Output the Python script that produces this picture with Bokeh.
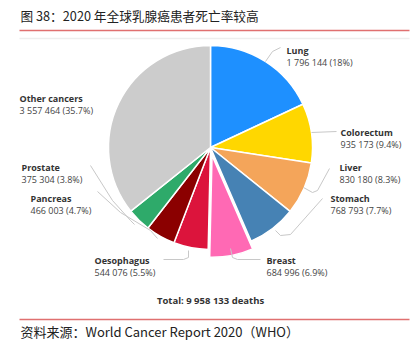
import math
from bokeh.plotting import figure
from bokeh.models import Range1d, ColumnDataSource
from bokeh.core.properties import value
from bokeh.embed import file_html
from bokeh.resources import INLINE

# ---- data ----
categories = ["Lung", "Colorectum", "Liver", "Stomach", "Breast",
              "Oesophagus", "Pancreas", "Prostate", "Other cancers"]
deaths = [1796144, 935173, 830180, 768793, 684996, 544076, 466003, 375304, 3557464]
pct_labels = ["18%", "9.4%", "8.3%", "7.7%", "6.9%", "5.5%", "4.7%", "3.8%", "35.7%"]
total_deaths = 9958133
title_text = "图 38：2020 年全球乳腺癌患者死亡率较高"
source_text = "资料来源：World Cancer Report 2020（WHO）"

# ---- styles / layout ----
colors = ["#1E90FF", "#FFD700", "#F4A55A", "#4682B4", "#FF69B4",
          "#DC143C", "#8B0000", "#2EAA6A", "#CCCCCC"]
explode = [0, 0, 0, 0, 8, 0, 0, 0, 0]
W, H = 419, 350
cx, cy, R = 210, 147, 102
label_pos = [(286, 50), (340, 132), (339, 167), (330, 198), (266, 260),
             (94, 260), (30, 198), (21, 167), (19, 98)]
leaders = [
    [(265, 61), (272, 51), (280, 47)],
    [(311, 132), (336, 131)],
    [(303, 187), (312, 192), (317, 190), (329, 168)],
    [(275, 230), (280, 235), (290, 234), (322, 198)],
    [(230, 248), (232, 257), (237, 259), (260, 259)],
    [(188, 250), (188, 257), (183, 259), (163, 259)],
    [(97, 191), (120, 212), (150, 230), (157, 238)],
    [(90, 165), (112, 200), (130, 220), (134, 224)],
    None,
]

def Y(y):
    return H - y

p = figure(width=W, height=H, x_range=Range1d(0, W), y_range=Range1d(0, H),
           output_backend="svg", toolbar_location=None, min_border=0)
p.axis.visible = False
p.grid.visible = False
p.outline_line_color = None
p.background_fill_color = "white"

# header / footer rules
p.segment(x0=[19], y0=[Y(30)], x1=[409], y1=[Y(30)], line_color="#E07070", line_width=1.5)
p.segment(x0=[19], y0=[Y(38)], x1=[409], y1=[Y(38)], line_color="#EEEEEE", line_width=1.5)
p.segment(x0=[19], y0=[Y(319)], x1=[409], y1=[Y(319)], line_color="#E07070", line_width=1.5)
p.text(x=[20], y=[Y(15)], text=[title_text], text_font=value("Noto Sans CJK SC"),
       text_font_size="12.7px", text_color="#222222", text_baseline="middle")
p.text(x=[20], y=[Y(331)], text=[source_text], text_font=value("Noto Sans CJK SC"),
       text_font_size="13px", text_color="#222222", text_baseline="middle")

# pie
tot = sum(deaths)
starts, ends, xs, ys = [], [], [], []
cum = 0.0
for d, e in zip(deaths, explode):
    f0 = cum / tot
    cum += d
    f1 = cum / tot
    a0 = math.pi / 2 - f0 * 2 * math.pi
    a1 = math.pi / 2 - f1 * 2 * math.pi
    mid = (a0 + a1) / 2
    starts.append(a0)
    ends.append(a1)
    xs.append(cx + e * math.cos(mid))
    ys.append(Y(cy) + e * math.sin(mid))
src = ColumnDataSource(dict(x=xs, y=ys, s=starts, e=ends, c=colors))
p.wedge(x="x", y="y", radius=R, start_angle="s", end_angle="e", direction="clock",
        fill_color="c", line_color="white", line_width=1.5, source=src)

# leader lines
for pts in leaders:
    if pts:
        p.line([q[0] for q in pts], [Y(q[1]) for q in pts], line_color="#C8C8C8", line_width=1)

# labels
for name, d, pc, (lx, ly) in zip(categories, deaths, pct_labels, label_pos):
    p.text(x=[lx], y=[Y(ly)], text=[name], text_font=value("Open Sans"),
           text_font_style="bold", text_font_size="9px", text_color="#333333",
           text_baseline="middle")
    vs = f"{d:,}".replace(",", " ") + f" ({pc})"
    p.text(x=[lx], y=[Y(ly + 12)], text=[vs], text_font=value("Open Sans"),
           text_font_size="9px", text_color="#444444", text_baseline="middle")

tot_str = "Total: " + f"{total_deaths:,}".replace(",", " ") + " deaths"
p.text(x=[210], y=[Y(300)], text=[tot_str], text_font=value("Open Sans"),
       text_font_style="bold", text_font_size="9.5px", text_color="#333333",
       text_baseline="middle", text_align="center")

open("out.html", "w").write(file_html(p, INLINE))
